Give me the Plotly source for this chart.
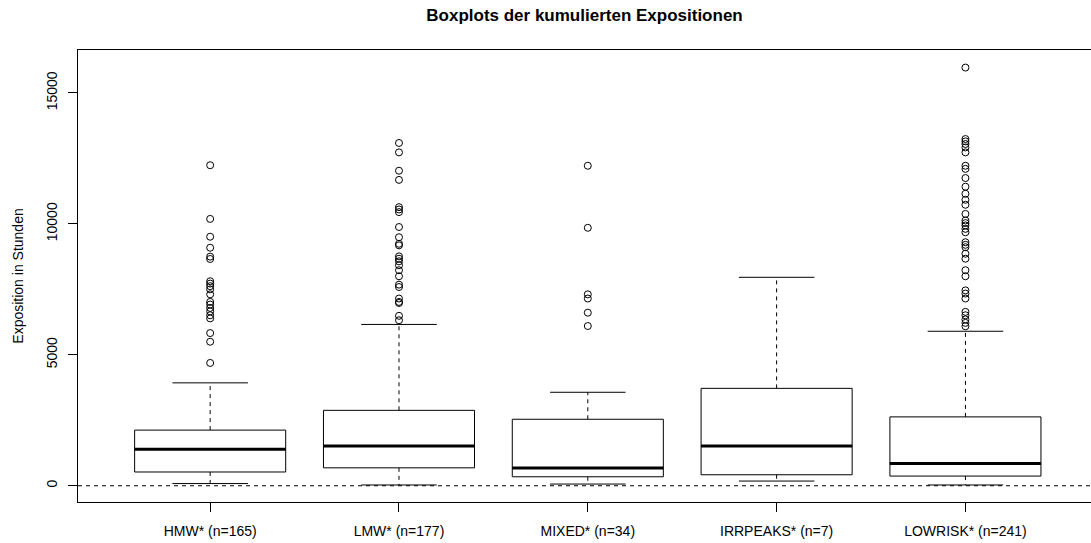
import plotly.graph_objects as go

# Group labels and box statistics (hours of cumulative exposure)
groups = ["HMW* (n=165)", "LMW* (n=177)", "MIXED* (n=34)", "IRRPEAKS* (n=7)", "LOWRISK* (n=241)"]
q1 = [526, 685, 343, 420, 370]
medians = [1390, 1520, 674, 1520, 850]
q3 = [2125, 2880, 2540, 3720, 2630]
whisker_low = [84, 30, 65, 180, 30]
whisker_high = [3930, 6160, 3570, 7960, 5900]

# Outlying observations per group
out_hmw = [12240, 10190, 9510, 9090, 8750, 8660, 7810, 7720, 7620, 7500, 7310,
           7020, 6920, 6790, 6660, 6510, 6390, 5830, 5500, 4690]
out_lmw = [13090, 12730, 12030, 11680, 10640, 10550, 10450, 9880, 9490, 9240, 9180,
           8760, 8670, 8570, 8420, 8230, 8000, 7680, 7590, 7150, 7020, 6980, 6490, 6320]
out_mixed = [12220, 9850, 7310, 7150, 6610, 6100]
out_irr = []
out_low = [15970, 13240, 13150, 13050, 12920, 12730, 12220, 12100, 11750, 11420, 11150,
           10920, 10730, 10380, 10130, 10030, 9940, 9810, 9680, 9300, 9200, 9110, 8860,
           8670, 8230, 8000, 7460, 7340, 7150, 6640, 6510, 6350, 6220, 6090]
outliers = [out_hmw, out_lmw, out_mixed, out_irr, out_low]

FONT = "Liberation Sans, Arial, Helvetica, sans-serif"
BOX_W = 0.8
CAP_W = 0.4

fig = go.Figure()

for i, name in enumerate(groups):
    pos = i + 1
    # box body (whiskers are drawn separately as dashed lines)
    fig.add_trace(go.Box(
        x=[pos], q1=[q1[i]], median=[medians[i]], q3=[q3[i]],
        lowerfence=[q1[i]], upperfence=[q3[i]],
        width=BOX_W, whiskerwidth=0,
        fillcolor="white", line=dict(color="black", width=1),
        name=name, showlegend=False, hoverinfo="skip",
    ))
    # dashed whiskers
    for a, b in ((q3[i], whisker_high[i]), (q1[i], whisker_low[i])):
        fig.add_trace(go.Scatter(
            x=[pos, pos], y=[a, b], mode="lines",
            line=dict(color="black", width=1, dash="4px,4px"),
            showlegend=False, hoverinfo="skip",
        ))
    # whisker caps
    for v in (whisker_high[i], whisker_low[i]):
        fig.add_trace(go.Scatter(
            x=[pos - CAP_W / 2, pos + CAP_W / 2], y=[v, v], mode="lines",
            line=dict(color="black", width=1),
            showlegend=False, hoverinfo="skip",
        ))
    # thick median line
    fig.add_trace(go.Scatter(
        x=[pos - BOX_W / 2, pos + BOX_W / 2], y=[medians[i], medians[i]], mode="lines",
        line=dict(color="black", width=3),
        showlegend=False, hoverinfo="skip",
    ))
    # outliers
    if outliers[i]:
        fig.add_trace(go.Scatter(
            x=[pos] * len(outliers[i]), y=outliers[i], mode="markers",
            marker=dict(symbol="circle-open", size=7, color="black", line=dict(width=1)),
            showlegend=False, hoverinfo="skip",
        ))

# reference line at zero
fig.add_shape(type="line", xref="paper", x0=0, x1=1, yref="y", y0=0, y1=0,
              line=dict(color="black", width=1, dash="4px,4px"))

fig.update_layout(
    width=1091, height=543,
    margin=dict(l=78, r=0, t=50, b=41),
    paper_bgcolor="white", plot_bgcolor="white",
    font=dict(family=FONT, size=14, color="black"),
    title=dict(text="<b>Boxplots der kumulierten Expositionen</b>",
               x=0.5, xref="paper", xanchor="center",
               y=1 - 15 / 543, yref="container", yanchor="middle",
               font=dict(family=FONT, size=17, color="black")),
    xaxis=dict(range=[0.3, 5.665], tickmode="array",
               tickvals=[1, 2, 3, 4, 5], ticktext=groups,
               ticks="outside", ticklen=9, tickcolor="black",
               ticklabelstandoff=7,
               showline=True, linecolor="black", linewidth=1, mirror=True,
               showgrid=False, zeroline=False,
               tickfont=dict(family=FONT, size=14)),
    yaxis=dict(range=[-620, 16640], tickmode="array",
               tickvals=[0, 5000, 10000, 15000],
               ticktext=["0", "5000", "10000", "15000"],
               tickangle=-90,
               ticks="outside", ticklen=9, tickcolor="black",
               ticklabelstandoff=5,
               showline=True, linecolor="black", linewidth=1,
               showgrid=False, zeroline=False,
               tickfont=dict(family=FONT, size=14),
               title=dict(text="Exposition in Stunden", standoff=17,
                          font=dict(family=FONT, size=14))),
)

fig.write_html("out.html")
